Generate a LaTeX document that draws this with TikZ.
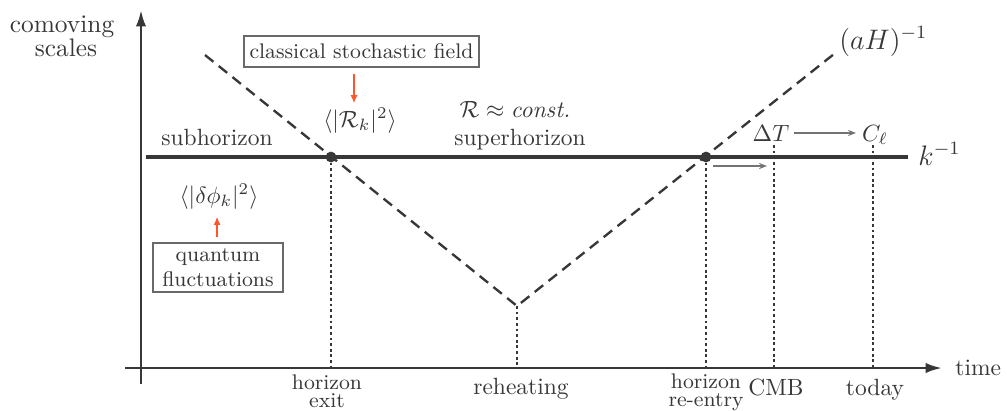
\documentclass[tikz,border=0pt]{standalone}
\usetikzlibrary{arrows.meta}
\definecolor{ink}{RGB}{55,55,55}
\definecolor{redc}{RGB}{255,85,45}
\definecolor{grayc}{RGB}{115,115,115}
\definecolor{boxc}{RGB}{105,105,105}
\begin{document}
\begin{tikzpicture}[x=0.4255pt,y=-0.4255pt,
  lbl/.style={inner sep=0pt, anchor=base, text=ink, font=\fontsize{10}{12}\selectfont},
  lblsmall/.style={lbl, font=\fontsize{9}{11}\selectfont},
  lblbig/.style={lbl, font=\fontsize{10.8}{13}\selectfont},
  lbllarge/.style={lbl, anchor=base west, font=\fontsize{12}{14}\selectfont},
  axisline/.style={draw=ink, line width=1.1pt, -{Latex[length=7pt,width=4.4pt]}},
  kline/.style={draw=ink, line width=1.5pt},
  dashline/.style={draw=ink, line width=1pt, dash pattern=on 4.6pt off 2.9pt},
  dotline/.style={draw=ink, line width=0.45pt, dash pattern=on 1.2pt off 1.2pt},
  dotnode/.style={circle, fill=ink, inner sep=0pt, minimum size=4.6pt},
  boxnode/.style={draw=boxc, line width=0.6pt, inner sep=0pt, text=ink, align=center},
  redarrow/.style={draw=redc, line width=0.55pt, -{Latex[length=3.4pt,width=3pt]}},
  grayarrow/.style={draw=grayc, line width=0.75pt, -{Stealth[length=3.4pt,width=2.6pt]}}
]
\useasboundingbox (0,0) rectangle (1007,410);

% axes
\coordinate (yB) at (141,384);
\coordinate (yT) at (141,10);
\coordinate (xL) at (125,368);
\coordinate (xR) at (942,368);
\draw[axisline] (yB) -- (yT);
\draw[axisline] (xL) -- (xR);

% k^-1 line
\coordinate (kL) at (146,157);
\coordinate (kR) at (908,157);

% dashed Hubble radius
\coordinate (dA) at (205,55);
\coordinate (rh) at (517,306);
\coordinate (dB) at (834,54);

% key points
\coordinate (hx) at (331,157);
\coordinate (hr) at (706,157);
\coordinate (cmbT) at (774,145);
\coordinate (todT) at (873,145);

% dotted verticals
\draw[dotline] (hx) -- (hx |- xL);
\draw[dotline] (rh) -- (rh |- xL);
\draw[dotline] (hr) -- (hr |- xL);
\draw[dotline] (cmbT) -- (cmbT |- xL);
\draw[dotline] (todT) -- (todT |- xL);

\draw[kline] (kL) -- (kR);
\draw[dashline] (dA) -- (rh) -- (dB);

\node[dotnode] (hxdot) at (hx) {};
\node[dotnode] (hrdot) at (hr) {};

% labels
\node[lblbig] (como) at (62,32) {comoving};
\node[lblbig] (scal) at (66,56) {scales};
\node[lbl, anchor=base west] (time) at (955,375) {time};
\node[lbllarge] (kinv) at (918,165) {$k^{-1}$};
\node[lbllarge] (aHinv) at (839,49) {$(aH)^{-1}$};

\node[lbl] (sub) at (217,145) {subhorizon};
\node[lbl] (sup) at (520,145) {superhorizon};
\node[lbl] (Rc) at (515,117) {$\mathcal{R}\approx\textit{const.}$};
\node[lbl] (Rk) at (360,127) {$\langle|\mathcal{R}_k|^2\rangle$};
\node[lbl] (dphi) at (219,203) {$\langle|\delta\phi_k|^2\rangle$};
\node[lbl] (dT) at (771,141) {$\Delta T$};
\node[lbl] (Cl) at (875,141) {$C_\ell$};

\node[lblsmall] (hx1) at (327,389) {horizon};
\node[lblsmall] (hx2) at (327,407) {exit};
\node[lbl] (reh) at (521,394) {reheating};
\node[lblsmall] (hr1) at (706,388) {horizon};
\node[lblsmall] (hr2) at (706,406) {re-entry};
\node[lbl] (cmb) at (776,395) {CMB};
\node[lbl] (tod) at (875,395) {today};

% boxes
\node[boxnode, font=\fontsize{9}{11}\selectfont, minimum width=100pt, minimum height=13.2pt]
  (cbox) at (361.5,51.5) {classical stochastic field};
\node[boxnode, font=\fontsize{9}{10.3}\selectfont, minimum width=55.3pt, minimum height=20.9pt]
  (qbox) at (218,267.5) {quantum\\fluctuations};

% arrows
\draw[redarrow, shorten <=2.5pt, shorten >=1.8pt] ([xshift=-3.2pt]cbox.south) -- ([xshift=-3.2pt]cbox.south |- Rk.north);
\draw[redarrow, shorten <=2.1pt, shorten >=3.2pt] ([xshift=-0.4pt]qbox.north) -- ([xshift=-0.4pt]qbox.north |- dphi.south);
\draw[grayarrow, shorten <=2pt, shorten >=2.4pt] (dT.east) -- (dT.east -| Cl.west);
\coordinate (sa1) at (713,166);
\coordinate (sa2) at (767,166);
\draw[grayarrow] (sa1) -- (sa2);
\end{tikzpicture}
\end{document}
